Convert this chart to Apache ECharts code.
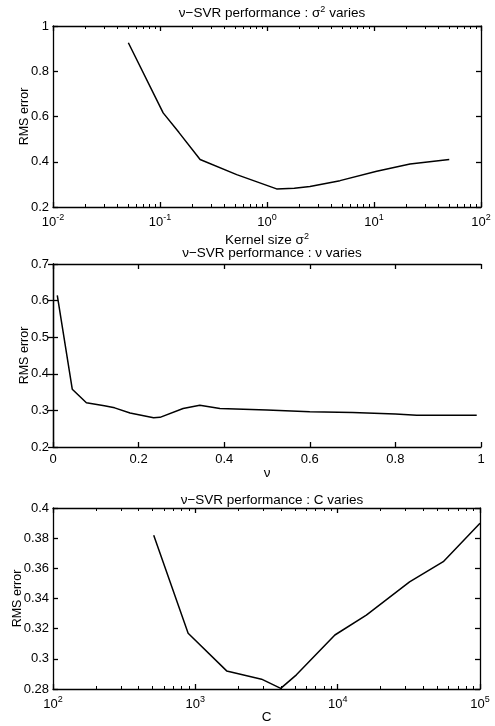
<!DOCTYPE html>
<html><head><meta charset="utf-8">
<script src="https://cdn.jsdelivr.net/npm/echarts@6/dist/echarts.min.js"></script>
<style>html,body{margin:0;padding:0;background:#fff}#c{width:495px;height:726px}</style>
</head><body><div id="c"></div>
<script>
// Panel 1: kernel size sigma^2
const sigmaVals = [0.0506, 0.107, 0.15, 0.237, 0.521, 1.23, 1.8, 2.52, 4.81, 10.6, 21.7, 50.5];
const sigmaRms  = [0.926, 0.616, 0.53, 0.41, 0.343, 0.28, 0.283, 0.291, 0.3165, 0.358, 0.39, 0.41];
// Panel 2: nu
const nuVals = [0.01, 0.045, 0.078, 0.12, 0.144, 0.18, 0.235, 0.25, 0.304, 0.343, 0.39, 0.5, 0.6, 0.7, 0.8, 0.85, 0.99];
const nuRms  = [0.614, 0.358, 0.321, 0.313, 0.307, 0.293, 0.28, 0.281, 0.305, 0.314, 0.305, 0.301, 0.296, 0.294, 0.29, 0.287, 0.287];
// Panel 3: C
const cVals = [510, 890, 1660, 2920, 3980, 5130, 9560, 15900, 32000, 55200, 100000];
const cRms  = [0.382, 0.317, 0.292, 0.2865, 0.2804, 0.2894, 0.3158, 0.329, 0.351, 0.3644, 0.3899];

const titles = ['ν−SVR performance : σ² varies', 'ν−SVR performance : ν varies', 'ν−SVR performance : C varies'];
const xNames = ['Kernel size σ²', 'ν', 'C'];
const yName = 'RMS error';
const sigmaMajor = [0.01, 0.1, 1, 10, 100];
const cMajor = [100, 1000, 10000, 100000];

function minorTicks(lo, hi) {
  const out = [];
  for (let d = lo; d < hi; d *= 10) for (let k = 2; k <= 9; k++) out.push(d * k);
  return out;
}

const FONT = 'Liberation Sans, Arial, Helvetica, sans-serif';
const grids = [
  {left: 53, right: 14, top: 26, height: 181, outerBoundsMode: 'none', containLabel: false},
  {left: 53, right: 14, top: 264, height: 183, outerBoundsMode: 'none', containLabel: false},
  {left: 53, right: 15, top: 508, height: 181, outerBoundsMode: 'none', containLabel: false}
];
const lineStyle = {color: '#000', width: 1.3};
const powRich = {
  b: {fontSize: 13, fontFamily: FONT, color: '#000'},
  s: {fontSize: 9, fontFamily: FONT, color: '#000', padding: [0, 0, 9, 0]}
};
function powFmt(v) {
  const e = Math.round(Math.log10(v));
  return '{b|10}{s|' + e + '}';
}
const nameStyle = {fontFamily: FONT, fontSize: 13.5, color: '#000'};
const yNameStyle = {fontFamily: FONT, fontSize: 12.5, color: '#000'};
const supRich = {
  t: {fontSize: 13.5, fontFamily: FONT, color: '#000', fontWeight: 'normal'},
  s: {fontSize: 9, fontFamily: FONT, color: '#000', fontWeight: 'normal', padding: [0, 0, 8, 0]}
};
function supText(s) {
  // render "x²" with a raised small 2
  const i = s.indexOf('²');
  if (i < 0) return '{t|' + s + '}';
  const a = s.slice(0, i), b = s.slice(i + 1);
  return '{t|' + a + '}{s|2}' + (b ? '{t|' + b + '}' : '');
}

const xAxes = [], yAxes = [];
function addLogX(g, lo, hi, major, name, gap) {
  xAxes.push({gridIndex: g, type: 'log', logBase: 10, min: lo, max: hi, position: 'bottom',
    name: supText(name), nameLocation: 'middle', nameGap: gap, nameMoveOverlap: false,
    nameTextStyle: Object.assign({rich: supRich}, nameStyle),
    axisLine: {lineStyle: lineStyle}, splitLine: {show: false},
    axisTick: {inside: true, length: 5, lineStyle: lineStyle, customValues: major},
    axisLabel: {customValues: major, formatter: powFmt, rich: powRich, margin: 6}});
  xAxes.push({gridIndex: g, type: 'log', logBase: 10, min: lo, max: hi, position: 'top',
    axisLine: {lineStyle: lineStyle}, splitLine: {show: false},
    axisTick: {inside: true, length: 5, lineStyle: lineStyle, customValues: major},
    axisLabel: {show: false}});
  const mt = minorTicks(lo, hi);
  ['bottom', 'top'].forEach(p => xAxes.push({gridIndex: g, type: 'log', logBase: 10, min: lo, max: hi, position: p,
    axisLine: {show: false}, splitLine: {show: false},
    axisTick: {inside: true, length: 3, lineStyle: {color: '#000', width: 1}, customValues: mt},
    axisLabel: {show: false}}));
}
function addLinX(g, lo, hi, iv, name, gap) {
  xAxes.push({gridIndex: g, type: 'value', min: lo, max: hi, interval: iv, position: 'bottom',
    name: name, nameLocation: 'middle', nameGap: gap, nameMoveOverlap: false, nameTextStyle: nameStyle,
    axisLine: {lineStyle: lineStyle}, splitLine: {show: false},
    axisTick: {inside: true, length: 5, lineStyle: lineStyle},
    axisLabel: {fontFamily: FONT, fontSize: 13, color: '#000', margin: 6}});
  xAxes.push({gridIndex: g, type: 'value', min: lo, max: hi, interval: iv, position: 'top',
    axisLine: {lineStyle: lineStyle}, splitLine: {show: false},
    axisTick: {inside: true, length: 5, lineStyle: lineStyle}, axisLabel: {show: false}});
}
function addY(g, lo, hi, iv, gap) {
  yAxes.push({gridIndex: g, type: 'value', min: lo, max: hi, interval: iv, position: 'left',
    name: yName, nameLocation: 'middle', nameGap: gap, nameMoveOverlap: false, nameTextStyle: yNameStyle,
    axisLine: {show: true, lineStyle: lineStyle}, splitLine: {show: false},
    axisTick: {show: true, inside: true, length: 5, lineStyle: lineStyle},
    axisLabel: {fontFamily: FONT, fontSize: 13, color: '#000', margin: 4,
      formatter: v => String(+v.toFixed(2))}});
  yAxes.push({gridIndex: g, type: 'value', min: lo, max: hi, interval: iv, position: 'right',
    axisLine: {show: true, lineStyle: lineStyle}, splitLine: {show: false},
    axisTick: {show: true, inside: true, length: 5, lineStyle: lineStyle}, axisLabel: {show: false}});
}

addLogX(0, 0.01, 100, sigmaMajor, xNames[0], 25); // x 0..3
addLinX(1, 0, 1, 0.2, xNames[1], 19);             // x 4..5
addLogX(2, 100, 100000, cMajor, xNames[2], 21);    // x 6..9
addY(0, 0.2, 1, 0.2, 21.5);       // y 0,1
addY(1, 0.2, 0.7, 0.1, 21.5);     // y 2,3
addY(2, 0.28, 0.4, 0.02, 28.5);   // y 4,5

const tStyle = {fontSize: 13.5, fontWeight: 'normal', fontFamily: FONT, color: '#000'};
const option = {
  animation: false,
  backgroundColor: '#fff',
  title: [
    {text: supText(titles[0]), left: 267, top: 0, textAlign: 'center', textStyle: Object.assign({rich: supRich}, tStyle)},
    {text: titles[1], left: 267, top: 241, textAlign: 'center', textStyle: tStyle},
    {text: titles[2], left: 267, top: 488, textAlign: 'center', textStyle: tStyle}
  ],
  grid: grids,
  xAxis: xAxes,
  yAxis: yAxes,
  series: [
    {type: 'line', xAxisIndex: 0, yAxisIndex: 0, data: sigmaVals.map((v, i) => [v, sigmaRms[i]]), showSymbol: false, lineStyle: {color: '#000', width: 1.5}},
    {type: 'line', xAxisIndex: 4, yAxisIndex: 2, data: nuVals.map((v, i) => [v, nuRms[i]]), showSymbol: false, lineStyle: {color: '#000', width: 1.5}},
    {type: 'line', xAxisIndex: 6, yAxisIndex: 4, data: cVals.map((v, i) => [v, cRms[i]]), showSymbol: false, lineStyle: {color: '#000', width: 1.5}}
  ]
};
const chart = echarts.init(document.getElementById('c'), null, {renderer: 'canvas'});
chart.setOption(option);
</script></body></html>
